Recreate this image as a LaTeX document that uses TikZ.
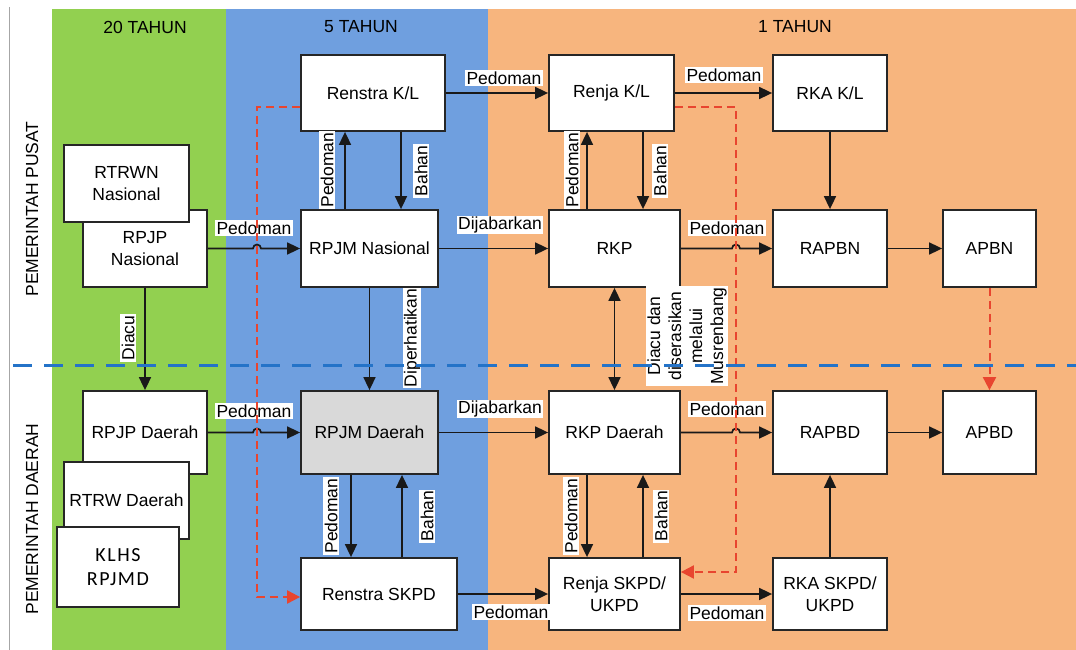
\documentclass[tikz,border=0pt]{standalone}
\usepackage{fontspec}
\setmainfont{Liberation Sans}
\newfontfamily\klhsfont[LetterSpace=8]{Carlito}
\usetikzlibrary{arrows.meta}

\definecolor{bandgreen}{HTML}{92D050}
\definecolor{bandblue}{HTML}{6F9FDF}
\definecolor{bandorange}{HTML}{F7B57E}
\definecolor{dashred}{HTML}{E8452F}
\definecolor{dashblue}{HTML}{2473C8}
\definecolor{boxgray}{HTML}{D9D9D9}

\newcommand\boxfont{\fontsize{17.5}{22}\selectfont}

\tikzset{
  box/.style={draw=black!85, line width=1.8pt, fill=white, align=center,
    inner sep=0pt, font=\boxfont},
  lbl/.style={fill=white, inner sep=1.2pt, font=\boxfont, align=center},
  arr/.style={draw=black!90, line width=1.7pt, -{Triangle[length=13pt,width=12pt]}},
  biarr/.style={draw=black!90, line width=1.7pt,
    {Triangle[length=13pt,width=12pt]}-{Triangle[length=13pt,width=12pt]}},
  reddash/.style={draw=dashred, line width=2pt, dash pattern=on 8pt off 5pt,
    -{Triangle[length=13pt,width=13pt,fill=dashred]}},
  bluedash/.style={draw=dashblue, line width=3pt, dash pattern=on 19pt off 12pt},
  header/.style={font=\boxfont},
}

\begin{document}
\begin{tikzpicture}[x=1pt,y=-1pt]
\useasboundingbox (0,0) rectangle (1076,650);

% time bands
\fill[bandgreen]  (52,9)  rectangle (226,650);
\fill[bandblue]   (226,9) rectangle (488,650);
\fill[bandorange] (488,9) rectangle (1076,650);
\draw[gray!70, line width=0.8pt] (9,7) -- (9,650);

% band headers
\node[header] (h20) at (145,27) {20 TAHUN};
\node[header] (h5)  at (361,27) {5 TAHUN};
\node[header] (h1)  at (795,27) {1 TAHUN};

% level labels
\node[header, rotate=90] (pusat)  at (32,209) {PEMERINTAH PUSAT};
\node[header, rotate=90] (daerah) at (32,519) {PEMERINTAH DAERAH};

% central government row
\node[box, minimum width=144pt, minimum height=76pt] (renstrakl) at (373,93) {Renstra K/L};
\node[box, minimum width=125pt, minimum height=76pt] (renjakl) at (611.5,93) {Renja K/L};
\node[box, minimum width=114pt, minimum height=76pt] (rkakl) at (830,93) {RKA K/L};

\node[box, minimum width=124pt, minimum height=77pt] (rpjpn) at (145,248.5) {RPJP\\Nasional};
\node[box, minimum width=125pt, minimum height=77pt] (rtrwn) at (126.5,183.5) {RTRWN\\Nasional};
\node[box, minimum width=137pt, minimum height=77pt] (rpjmn) at (369.5,248.5) {RPJM Nasional};
\node[box, minimum width=131pt, minimum height=77pt] (rkp) at (614.5,248.5) {RKP};
\node[box, minimum width=114pt, minimum height=77pt] (rapbn) at (830,248.5) {RAPBN};
\node[box, minimum width=93pt, minimum height=77pt] (apbn) at (989.5,248.5) {APBN};

% regional government row
\node[box, minimum width=124pt, minimum height=83pt] (rpjpd) at (145,432.5) {RPJP Daerah};
\node[box, minimum width=125pt, minimum height=77pt] (rtrwd) at (126.5,500.5) {RTRW Daerah};
\node[box, minimum width=122pt, minimum height=80pt, font=\klhsfont\fontsize{20}{24}\selectfont] (klhs) at (118,567) {KLHS\\RPJMD};
\node[box, fill=boxgray, minimum width=137pt, minimum height=83pt] (rpjmd) at (369.5,432.5) {RPJM Daerah};
\node[box, minimum width=131pt, minimum height=83pt] (rkpd) at (614.5,432.5) {RKP Daerah};
\node[box, minimum width=114pt, minimum height=83pt] (rapbd) at (830,432.5) {RAPBD};
\node[box, minimum width=93pt, minimum height=83pt] (apbd) at (989.5,432.5) {APBD};

\node[box, minimum width=156pt, minimum height=72pt] (renstraskpd) at (379,594) {Renstra SKPD};
\node[box, minimum width=131pt, minimum height=72pt] (renjaskpd) at (614.5,594) {Renja SKPD/\\UKPD};
\node[box, minimum width=114pt, minimum height=72pt] (rkaskpd) at (830,594) {RKA SKPD/\\UKPD};

% guide positions for vertical connectors and line hops
\coordinate (v1) at (345,0);
\coordinate (v2) at (401,0);
\coordinate (v3) at (587,0);
\coordinate (v4) at (643,0);
\coordinate (v5) at (351,0);
\coordinate (v6) at (402,0);
\coordinate (hopA) at (257,248.5);
\coordinate (hopB) at (257,432.5);
\coordinate (hopC) at (736,248.5);
\coordinate (hopD) at (736,432.5);

% horizontal connectors
\draw[arr] (renstrakl.east) -- (renjakl.west);
\draw[arr] (renjakl.east) -- (rkakl.west);
\draw[arr] (rpjpn.east) -- ([xshift=-4pt]hopA) arc[start angle=180,end angle=0,radius=4pt] -- (rpjmn.west);
\draw[arr] (rpjmn.east) -- (rkp.west);
\draw[arr] (rkp.east) -- ([xshift=-4pt]hopC) arc[start angle=180,end angle=0,radius=4pt] -- (rapbn.west);
\draw[arr] (rapbn.east) -- (apbn.west);
\draw[arr] (rpjpd.east) -- ([xshift=-4pt]hopB) arc[start angle=180,end angle=0,radius=4pt] -- (rpjmd.west);
\draw[arr] (rpjmd.east) -- (rkpd.west);
\draw[arr] (rkpd.east) -- ([xshift=-4pt]hopD) arc[start angle=180,end angle=0,radius=4pt] -- (rapbd.west);
\draw[arr] (rapbd.east) -- (apbd.west);
\draw[arr] (renstraskpd.east) -- (renjaskpd.west);
\draw[arr] (renjaskpd.east) -- (rkaskpd.west);

% vertical connectors
\draw[arr] (rpjmn.north -| v1) -- (renstrakl.south -| v1);
\draw[arr] (renstrakl.south -| v2) -- (rpjmn.north -| v2);
\draw[arr] (rkp.north -| v3) -- (renjakl.south -| v3);
\draw[arr] (renjakl.south -| v4) -- (rkp.north -| v4);
\draw[arr] (rkakl.south) -- (rapbn.north);
\draw[arr] (rpjpn.south) -- (rpjpd.north);
\draw[arr] (rpjmn.south) -- (rpjmd.north);
\draw[biarr] (rkp.south) -- (rkpd.north);
\draw[arr] (rpjmd.south -| v5) -- (renstraskpd.north -| v5);
\draw[arr] (renstraskpd.north -| v6) -- (rpjmd.south -| v6);
\draw[arr] (rkpd.south -| v3) -- (renjaskpd.north -| v3);
\draw[arr] (renjaskpd.north -| v4) -- (rkpd.south -| v4);
\draw[arr] (rkaskpd.north) -- (rapbd.south);

% connector labels
\node[lbl] (p1) at (504,78) {Pedoman};
\node[lbl] (p2) at (724,75) {Pedoman};
\node[lbl] (p3) at (254,228) {Pedoman};
\node[lbl] (d1) at (500,225) {Dijabarkan};
\node[lbl] (p4) at (727,228) {Pedoman};
\node[lbl] (p5) at (254,411) {Pedoman};
\node[lbl] (d2) at (500,409) {Dijabarkan};
\node[lbl] (p6) at (727,409) {Pedoman};
\node[lbl] (p7) at (511,612) {Pedoman};
\node[lbl] (p8) at (727,613) {Pedoman};

\node[lbl, rotate=90] (p9)  at (327,170) {Pedoman};
\node[lbl, rotate=90] (b1)  at (421,171) {Bahan};
\node[lbl, rotate=90] (p10) at (572,170) {Pedoman};
\node[lbl, rotate=90] (b2)  at (660,171) {Bahan};
\node[lbl, rotate=90] (diacu) at (128,338) {Diacu};
\node[lbl, rotate=90] (dip) at (412,338) {Diperhatikan};
\node[lbl, rotate=90, font=\fontsize{17.5}{21}\selectfont] (mus) at (687,336)
  {Diacu dan\\diserasikan\\melalui\\Musrenbang};
\node[lbl, rotate=90] (p11) at (331,516) {Pedoman};
\node[lbl, rotate=90] (b3)  at (427,516) {Bahan};
\node[lbl, rotate=90] (p12) at (571,516) {Pedoman};
\node[lbl, rotate=90] (b4)  at (661,516) {Bahan};

% red dashed links
\coordinate (ra) at (257,107);
\coordinate (rb) at (257,597);
\coordinate (rc) at (736,107);
\coordinate (rd) at (736,572);
\draw[reddash] (renstrakl.west |- ra) -- (ra) -- (rb) -- (renstraskpd.west |- rb);
\draw[reddash] (renjakl.east |- rc) -- (rc) -- (rd) -- (renjaskpd.east |- rd);
\draw[reddash] (apbn.south) -- (apbd.north);

% boundary between central and regional levels
\coordinate (bl) at (13,365);
\coordinate (br) at (1076,365);
\draw[bluedash] (bl) -- (br);
\end{tikzpicture}
\end{document}
